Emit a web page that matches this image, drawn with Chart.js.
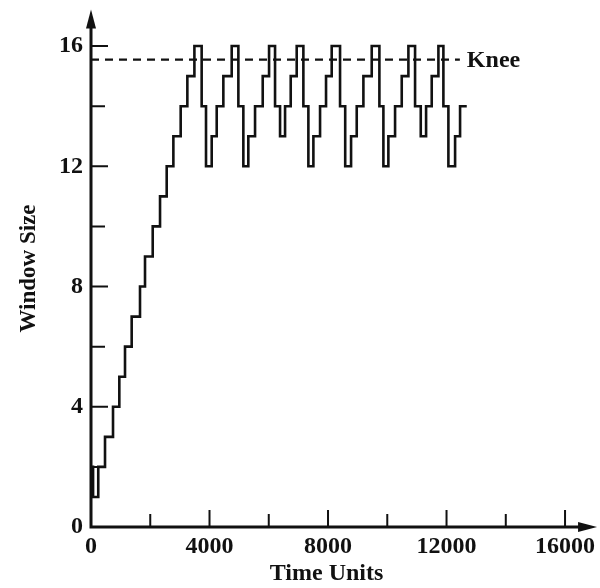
<!DOCTYPE html>
<html>
<head>
<meta charset="utf-8">
<script src="https://cdn.jsdelivr.net/npm/chart.js@4.4.1/dist/chart.umd.min.js"></script>
<style>
  html, body { margin: 0; padding: 0; background: #fff; }
  #wrap { width: 600px; height: 588px; }
</style>
</head>
<body>
<div id="wrap"><canvas id="windowChart" width="600" height="588"></canvas></div>
<script>
// time at which each window size starts
const stepTimes = [
  0, 70, 245, 473, 743, 956, 1148, 1373, 1654, 1823, 2083, 2330, 2555, 2780, 3027, 3252,
  3490, 3735, 3882, 4074, 4243, 4467,
  4749, 4974, 5142, 5310, 5537, 5796,
  6010, 6212, 6381, 6550, 6741,
  6943, 7168, 7337, 7506, 7731, 7933,
  8124, 8406, 8580, 8778, 8969, 9194,
  9475, 9734, 9869, 10037, 10263, 10488,
  10713, 10938, 11130, 11310, 11500,
  11726, 11894, 12063, 12289, 12457, 12683
];
const windowSizes = [
  2, 1, 2, 3, 4, 5, 6, 7, 8, 9, 10, 11, 12, 13, 14, 15,
  16, 14, 12, 13, 14, 15,
  16, 14, 12, 13, 14, 15,
  16, 14, 13, 14, 15,
  16, 14, 12, 13, 14, 15,
  16, 14, 12, 13, 14, 15,
  16, 14, 12, 13, 14, 15,
  16, 14, 13, 14, 15,
  16, 14, 12, 13, 14, 14
];
const kneeLevel = 15.55;
const kneeStart = 0;
const kneeEnd = 12450;
const xTickLabels = [0, 4000, 8000, 12000, 16000];
const yTickLabels = [0, 4, 8, 12, 16];

const FONT = '"Liberation Serif", "DejaVu Serif", serif';
const INK = '#111';

const axesPlugin = {
  id: 'axesPlugin',
  afterDraw(chart) {
    const { ctx, scales: { x, y } } = chart;
    const x0 = x.getPixelForValue(0);
    const y0 = y.getPixelForValue(0);
    const yTop = y.getPixelForValue(17.15);
    const xEnd = x.getPixelForValue(17080);
    ctx.save();
    ctx.strokeStyle = INK;
    ctx.fillStyle = INK;

    // axis lines
    ctx.lineWidth = 3;
    ctx.beginPath();
    ctx.moveTo(x0, y0 + 1.5);
    ctx.lineTo(x0, yTop + 10);
    ctx.moveTo(x0 - 1.5, y0);
    ctx.lineTo(xEnd - 10, y0);
    ctx.stroke();

    // arrow heads
    ctx.beginPath();
    ctx.moveTo(x0, yTop - 2);
    ctx.lineTo(x0 - 5, yTop + 17);
    ctx.lineTo(x0 + 5, yTop + 17);
    ctx.closePath();
    ctx.fill();
    ctx.beginPath();
    ctx.moveTo(xEnd, y0);
    ctx.lineTo(xEnd - 19, y0 - 5);
    ctx.lineTo(xEnd - 19, y0 + 5);
    ctx.closePath();
    ctx.fill();

    // tick marks, pointing inward
    ctx.lineWidth = 2;
    ctx.beginPath();
    for (let v = 2000; v <= 16000; v += 2000) {
      const px = x.getPixelForValue(v);
      const len = v % 4000 ? 13 : 17;
      ctx.moveTo(px, y0);
      ctx.lineTo(px, y0 - len);
    }
    for (let v = 2; v <= 16; v += 2) {
      const py = y.getPixelForValue(v);
      const len = v % 4 ? 14 : 17;
      ctx.moveTo(x0, py);
      ctx.lineTo(x0 + len, py);
    }
    ctx.stroke();

    // knee label
    ctx.font = 'bold 24px ' + FONT;
    ctx.textAlign = 'left';
    ctx.textBaseline = 'middle';
    ctx.fillText('Knee', x.getPixelForValue(kneeEnd) + 7, y.getPixelForValue(kneeLevel) + 1);

    // axis titles
    ctx.font = 'bold 24px ' + FONT;
    ctx.textAlign = 'center';
    ctx.textBaseline = 'middle';
    ctx.fillText('Time Units', x.getPixelForValue(7950), 574);
    ctx.save();
    ctx.font = 'bold 23px ' + FONT;
    ctx.translate(29, y.getPixelForValue(8.6));
    ctx.rotate(-Math.PI / 2);
    ctx.fillText('Window Size', 0, 0);
    ctx.restore();

    ctx.restore();
  }
};

const ctx = document.getElementById('windowChart').getContext('2d');

const chart = new Chart(ctx, {
  type: 'line',
  data: {
    datasets: [
      {
        label: 'Window Size',
        data: stepTimes.map((t, i) => ({ x: t, y: windowSizes[i] })),
        stepped: 'before',
        borderColor: INK,
        borderWidth: 2.6,
        pointRadius: 0,
        fill: false,
        borderJoinStyle: 'miter',
      },
      {
        label: 'Knee',
        data: [{ x: kneeStart, y: kneeLevel }, { x: kneeEnd, y: kneeLevel }],
        borderColor: INK,
        borderWidth: 2.2,
        borderDash: [8, 6],
        pointRadius: 0,
        fill: false,
      },
    ],
  },
  options: {
    responsive: false,
    animation: false,
    layout: { padding: { top: 10, right: 0, bottom: 0, left: 0 } },
    plugins: { legend: { display: false }, tooltip: { enabled: false } },
    scales: {
      x: {
        type: 'linear',
        min: 0,
        max: 17180,
        afterFit: (s) => { s.height = 61; s.paddingRight = 0; s.paddingLeft = 0; },
        afterBuildTicks: (s) => { s.ticks = xTickLabels.map((v) => ({ value: v })); },
        grid: { display: false, drawTicks: false },
        border: { display: false },
        ticks: {
          padding: 5,
          color: INK,
          font: { family: FONT, size: 24, weight: 'bold' },
          maxRotation: 0,
          callback: (v) => String(v),
        },
      },
      y: {
        type: 'linear',
        min: 0,
        max: 17.2,
        afterFit: (s) => { s.width = 91; s.paddingTop = 0; s.paddingBottom = 0; },
        afterBuildTicks: (s) => { s.ticks = yTickLabels.map((v) => ({ value: v })); },
        grid: { display: false, drawTicks: false },
        border: { display: false },
        ticks: {
          padding: 8,
          color: INK,
          font: { family: FONT, size: 24, weight: 'bold' },
          callback: (v) => String(v),
        },
      },
    },
  },
  plugins: [axesPlugin],
});
</script>
</body>
</html>
